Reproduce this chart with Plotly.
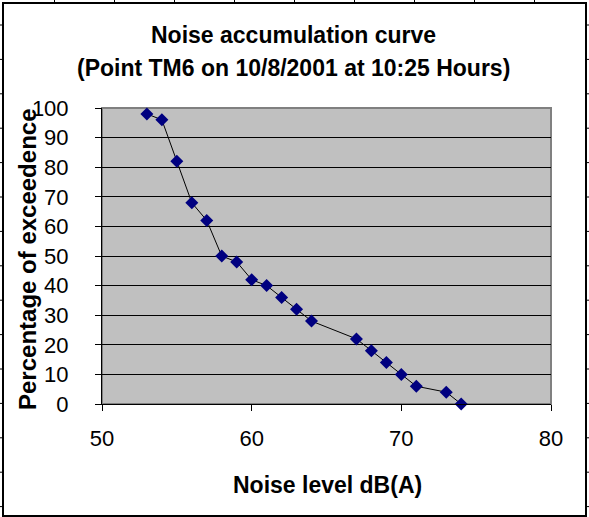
import plotly.graph_objects as go

noise_db = [53, 54, 55, 56, 57, 58, 59, 60, 61, 62, 63, 64, 67, 68, 69, 70, 71, 73, 74]
pct_exceed = [98, 96, 82, 68, 62, 50, 48, 42, 40, 36, 32, 28, 22, 18, 14, 10, 6, 4, 0]
x_ticks = [50, 60, 70, 80]
y_ticks = list(range(0, 101, 10))

W, H = 589, 517
L, R, T, B = 102, 551, 108, 404  # plot area in px

def px(x):
    return (x - L) / (R - L)

def py(y):
    return (B - y) / (B - T)

fig = go.Figure()
fig.add_trace(go.Scatter(
    x=noise_db, y=pct_exceed, mode="lines+markers",
    line=dict(color="black", width=1),
    marker=dict(symbol="diamond", size=10, color="#000080",
                line=dict(width=0)),
    showlegend=False, cliponaxis=False,
))

shapes = []
# chart frame
shapes.append(dict(type="rect", xref="paper", yref="paper",
                   x0=px(3), x1=px(586), y0=py(516), y1=py(3),
                   line=dict(color="black", width=2), layer="below"))
# plot area border (gray)
shapes.append(dict(type="rect", xref="paper", yref="paper",
                   x0=0, x1=1, y0=0, y1=1,
                   line=dict(color="#808080", width=2), layer="below"))
# spreadsheet cell ticks around the frame
for i in range(9):
    xx = 54.5 + 60 * i
    shapes.append(dict(type="line", xref="paper", yref="paper",
                       x0=px(xx), x1=px(xx), y0=py(0), y1=py(3),
                       line=dict(color="black", width=1)))
for i in range(15):
    yy = 25 + 34.4 * i
    if yy > 516:
        break
    shapes.append(dict(type="line", xref="paper", yref="paper",
                       x0=px(0), x1=px(3), y0=py(yy), y1=py(yy),
                       line=dict(color="black", width=1)))
    shapes.append(dict(type="line", xref="paper", yref="paper",
                       x0=px(586), x1=px(589), y0=py(yy), y1=py(yy),
                       line=dict(color="black", width=1)))

font = "Liberation Sans, Arial, sans-serif"
annotations = [
    dict(text="<b>Noise accumulation curve</b>", xref="paper", yref="paper",
         x=px(293), y=py(35), xanchor="center", yanchor="middle",
         showarrow=False, font=dict(family=font, size=23, color="black")),
    dict(text="<b>(Point TM6 on 10/8/2001 at 10:25 Hours)</b>", xref="paper", yref="paper",
         x=px(293), y=py(68), xanchor="center", yanchor="middle",
         showarrow=False, font=dict(family=font, size=23, color="black")),
    dict(text="<b>Noise level dB(A)</b>", xref="paper", yref="paper",
         x=px(327), y=py(485), xanchor="center", yanchor="middle",
         showarrow=False, font=dict(family=font, size=23, color="black")),
    dict(text="<b>Percentage of exceedence</b>", xref="paper", yref="paper",
         x=px(27), y=py(259), xanchor="center", yanchor="middle", textangle=-90,
         showarrow=False, font=dict(family=font, size=24, color="black")),
]

fig.update_layout(
    width=W, height=H,
    margin=dict(l=L, r=W - R, t=T, b=H - B, pad=0),
    paper_bgcolor="white", plot_bgcolor="#C0C0C0",
    font=dict(family=font, size=22, color="black"),
    shapes=shapes, annotations=annotations,
    xaxis=dict(range=[50, 80], tickvals=x_ticks, ticktext=[str(v) for v in x_ticks],
               showgrid=False, zeroline=False, showline=True, linecolor="black",
               linewidth=1, ticks="outside", ticklen=6, tickcolor="black",
               tickfont=dict(size=22), ticklabelstandoff=9),
    yaxis=dict(range=[0, 100], tickvals=y_ticks, ticktext=[str(v) for v in y_ticks],
               showgrid=True, gridcolor="black", gridwidth=1, zeroline=False,
               showline=True, linecolor="black", linewidth=1,
               ticks="outside", ticklen=6, tickcolor="black",
               tickfont=dict(size=22), ticklabelstandoff=22),
)

fig.write_html("out.html")
